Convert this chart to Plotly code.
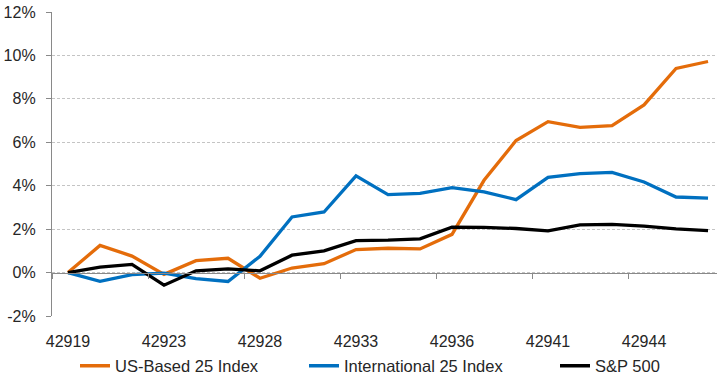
import plotly.graph_objects as go

# Trading-day serial numbers (Excel date serials)
dates = [42919, 42921, 42922, 42923, 42926, 42927, 42928, 42929, 42930, 42933,
         42934, 42935, 42936, 42937, 42940, 42941, 42942, 42943, 42944, 42947, 42948]

# Cumulative returns, in percent
us_based_25 = [0.0, 1.25, 0.76, -0.08, 0.55, 0.66, -0.26, 0.21, 0.41, 1.06,
               1.12, 1.09, 1.76, 4.25, 6.08, 6.95, 6.69, 6.77, 7.72, 9.40, 9.72]
international_25 = [0.0, -0.40, -0.09, -0.03, -0.28, -0.41, 0.75, 2.56, 2.79, 4.45,
                    3.59, 3.65, 3.91, 3.72, 3.36, 4.38, 4.56, 4.61, 4.17, 3.48, 3.43]
sp500 = [0.0, 0.25, 0.38, -0.58, 0.08, 0.17, 0.08, 0.80, 1.00, 1.47,
         1.49, 1.55, 2.09, 2.08, 2.03, 1.92, 2.20, 2.22, 2.14, 2.01, 1.93]

series_names = ["US-Based 25 Index", "International 25 Index", "S&P 500"]
series_colors = ["#E46C0A", "#0070C0", "#000000"]

y_tick_vals = [-2, 0, 2, 4, 6, 8, 10, 12]
y_tick_text = ["-2%", "0%", "2%", "4%", "6%", "8%", "10%", "12%"]

# Every third trading day is labelled
label_idx = list(range(0, len(dates), 3))
x_tick_text = [str(dates[i]) for i in label_idx]
# Category boundaries carrying tick marks on the zero axis
boundary_ticks = [i - 0.5 for i in label_idx]

idx = list(range(len(dates)))
font_family = "Liberation Sans, Arial, sans-serif"
axis_gray = "#898989"
text_color = "#262626"

W, H = 717, 376
# Left edge (px) of each legend entry along the bottom row
legend_left_px = [75, 304, 555]
legend_ids = ["legend", "legend2", "legend3"]

fig = go.Figure()
for name, vals, color, lg in zip(series_names, [us_based_25, international_25, sp500],
                                 series_colors, legend_ids):
    fig.add_trace(go.Scatter(
        x=idx, y=vals, name=name, mode="lines",
        line=dict(color=color, width=3.3),
        legend=lg,
        customdata=dates,
        hovertemplate="%{customdata}: %{y:.2f}%<extra>" + name + "</extra>",
    ))

x_range = [-0.5, 20.28]

legend_style = dict(orientation="h", xanchor="left", xref="container", yref="container",
                    y=10 / H, yanchor="middle", bgcolor="rgba(0,0,0,0)",
                    font=dict(size=16.5, color=text_color), itemwidth=30)
legends = {lg: dict(legend_style, x=px / W) for lg, px in zip(legend_ids, legend_left_px)}

fig.update_layout(
    width=W, height=H,
    margin=dict(l=52, r=0, t=12, b=60),
    paper_bgcolor="white", plot_bgcolor="white",
    font=dict(family=font_family, size=16, color=text_color),
    showlegend=True,
    **legends,
    xaxis=dict(
        range=x_range, showgrid=False, zeroline=False, showline=False,
        tickmode="array", tickvals=label_idx, ticktext=x_tick_text,
        ticks="", ticklabelstandoff=14, automargin=False,
        tickfont=dict(size=16, color=text_color),
    ),
    xaxis2=dict(
        overlaying="x", anchor="free", position=2 / 14, range=x_range,
        showgrid=False, zeroline=False, showline=True, linecolor=axis_gray, linewidth=1.3,
        tickmode="array", tickvals=boundary_ticks, showticklabels=False,
        ticks="outside", ticklen=5, tickcolor=axis_gray, tickwidth=1.3,
    ),
    yaxis=dict(
        range=[-2, 12], tickmode="array", tickvals=y_tick_vals, ticktext=y_tick_text,
        showgrid=True, gridcolor="#C4C4C4", gridwidth=1, griddash="3px,2px",
        zeroline=False, showline=True, linecolor=axis_gray, linewidth=1.3,
        ticks="outside", ticklen=5, tickcolor=axis_gray, tickwidth=1.3,
        ticklabelstandoff=7, automargin=False,
        tickfont=dict(size=16, color=text_color),
    ),
)

# Invisible trace so the zero-line axis is rendered
fig.add_trace(go.Scatter(x=[0], y=[0], xaxis="x2", mode="markers",
                         marker=dict(opacity=0), showlegend=False, hoverinfo="skip"))

fig.write_html("out.html")
